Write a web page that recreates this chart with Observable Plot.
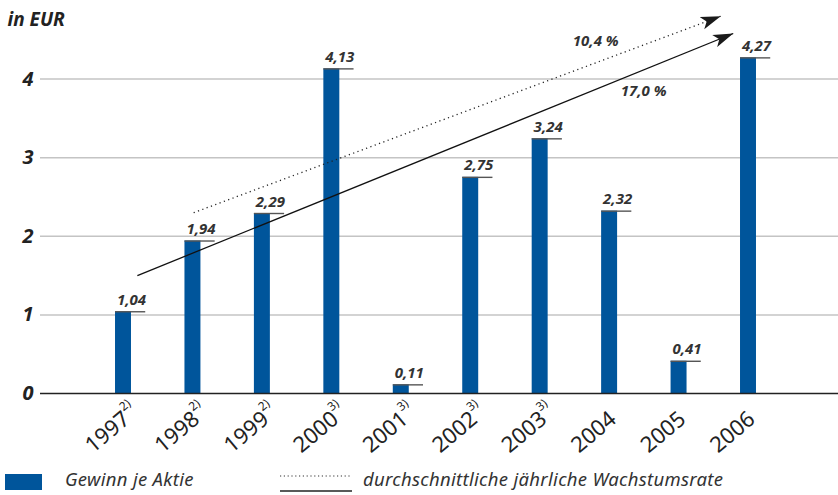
<!DOCTYPE html>
<html>
<head>
<meta charset="utf-8">
<script src="https://cdn.jsdelivr.net/npm/d3@7"></script>
<script src="https://cdn.jsdelivr.net/npm/@observablehq/plot@0.6"></script>
<style>
  html, body { margin: 0; padding: 0; background: #fff; }
  #wrap { position: relative; width: 838px; height: 495px; font-family: "Noto Sans", sans-serif; }
  #legend { position: relative; width: 838px; height: 30px; }
  #legend .t { position: absolute; top: 1px; font-style: italic; font-size: 18.5px; color: #333; letter-spacing: 0.3px; }
</style>
</head>
<body>
<div id="wrap">
  <div id="chart"></div>
  <div id="legend">
    <div style="position:absolute;left:5px;top:9px;width:37px;height:16px;background:#00559b"></div>
    <span class="t" style="left:65px">Gewinn je Aktie</span>
    <svg style="position:absolute;left:280px;top:0" width="74" height="30">
      <line x1="0" x2="72" y1="11" y2="11" stroke="#333" stroke-width="1.2" stroke-dasharray="1.2,2.6"/>
      <line x1="0" x2="72" y1="26" y2="26" stroke="#222" stroke-width="1.3"/>
    </svg>
    <span class="t" style="left:363px">durchschnittliche jährliche Wachstumsrate</span>
  </div>
</div>
<script>
// ---- data ----
const years = [1997, 1998, 1999, 2000, 2001, 2002, 2003, 2004, 2005, 2006];
const values = [1.04, 1.94, 2.29, 4.13, 0.11, 2.75, 3.24, 2.32, 0.41, 4.27];
const notes = ["2)", "2)", "2)", "3)", "3)", "3)", "3)", "", "", ""];
const yTicks = [0, 1, 2, 3, 4];
const trendNames = ["10,4 %", "17,0 %"];
const trendStartYear = [1998.01, 1997.2];
const trendStartValue = [2.30, 1.50];
const trendEndYear = [2005.60, 2005.78];
const trendEndValue = [4.80, 4.58];
const trendLabelYear = [2003.80, 2004.49];
const trendLabelValue = [4.48, 3.84];

const data = years.map((year, i) => ({year, v: values[i], note: notes[i]}));
const trends = trendNames.map((name, i) => ({
  name, x1: trendStartYear[i], y1: trendStartValue[i], x2: trendEndYear[i], y2: trendEndValue[i],
  lx: trendLabelYear[i], ly: trendLabelValue[i], dotted: i === 0
}));

const blue = "#00559b";
const half = 0.115;
const fmt = v => v.toFixed(2).replace(".", ",");

function arrowHead(color, context) {
  const ns = "http://www.w3.org/2000/svg";
  const m = context.document.createElementNS(ns, "marker");
  m.setAttribute("viewBox", "-20 -7 22 14");
  m.setAttribute("markerWidth", "22");
  m.setAttribute("markerHeight", "14");
  m.setAttribute("markerUnits", "userSpaceOnUse");
  m.setAttribute("orient", "auto");
  m.setAttribute("refX", "0");
  m.setAttribute("refY", "0");
  const p = context.document.createElementNS(ns, "path");
  p.setAttribute("d", "M-20,-6.5L0,0L-20,6.5L-15,0Z");
  p.setAttribute("fill", "#1a1a1a");
  p.setAttribute("stroke", "none");
  m.appendChild(p);
  return m;
}

const font = "'Noto Sans', sans-serif";

const chart = Plot.plot({
  width: 838,
  height: 465,
  marginLeft: 40,
  marginRight: 0,
  marginTop: 0,
  marginBottom: 72,
  style: {fontFamily: font, background: "#fff", overflow: "visible"},
  x: {type: "linear", domain: [1997, 2006], range: [123, 748], axis: null},
  y: {domain: [0, 5], axis: null},
  marks: [
    Plot.ruleY(yTicks.filter(d => d > 0), {stroke: "#c4c4c4", strokeWidth: 1.5}),
    Plot.axisY({ticks: yTicks, tickFormat: d => String(d), tickSize: 0, tickPadding: 7, label: null, fontSize: 20, fontWeight: "bold", fontStyle: "italic", fill: "#222"}),
    Plot.text(["in EUR"], {frameAnchor: "top-left", dx: -33, dy: 12, fontSize: 19, fontWeight: "bold", fontStyle: "italic", fill: "#222", textAnchor: "start"}),
    Plot.rectY(data, {x1: d => d.year - half, x2: d => d.year + half, y: "v", fill: blue}),
    Plot.ruleY(data, {y: "v", x1: d => d.year - half, x2: d => d.year + 0.32, stroke: "#555", strokeWidth: 1.4}),
    Plot.ruleY([0], {stroke: "#222", strokeWidth: 1.6}),
    Plot.text(data, {x: "year", y: "v", text: d => fmt(d.v), dx: 8, dy: -7, lineAnchor: "bottom", fontSize: 15, fontWeight: "bold", fontStyle: "italic", fill: "#333"}),
    Plot.text(data, {x: "year", y: 0, text: d => String(d.year), rotate: -40, textAnchor: "end", lineAnchor: "bottom", dx: 8, dy: 28, fontSize: 22, fill: "#222"}),
    Plot.text(data.filter(d => d.note), {x: "year", y: 0, text: "note", rotate: -40, textAnchor: "start", lineAnchor: "bottom", dx: 0, dy: 18, fontSize: 12, fill: "#222"}),
    Plot.link(trends.filter(d => d.dotted), {x1: "x1", y1: "y1", x2: "x2", y2: "y2", stroke: "#222", strokeWidth: 1.3, strokeDasharray: "1.2,3.4", markerEnd: arrowHead}),
    Plot.link(trends.filter(d => !d.dotted), {x1: "x1", y1: "y1", x2: "x2", y2: "y2", stroke: "#111", strokeWidth: 1.3, markerEnd: arrowHead}),
    Plot.text(trends, {x: "lx", y: "ly", text: "name", fontSize: 15, fontWeight: "bold", fontStyle: "italic", fill: "#333"})
  ]
});
document.getElementById("chart").appendChild(chart);
</script>
</body>
</html>
